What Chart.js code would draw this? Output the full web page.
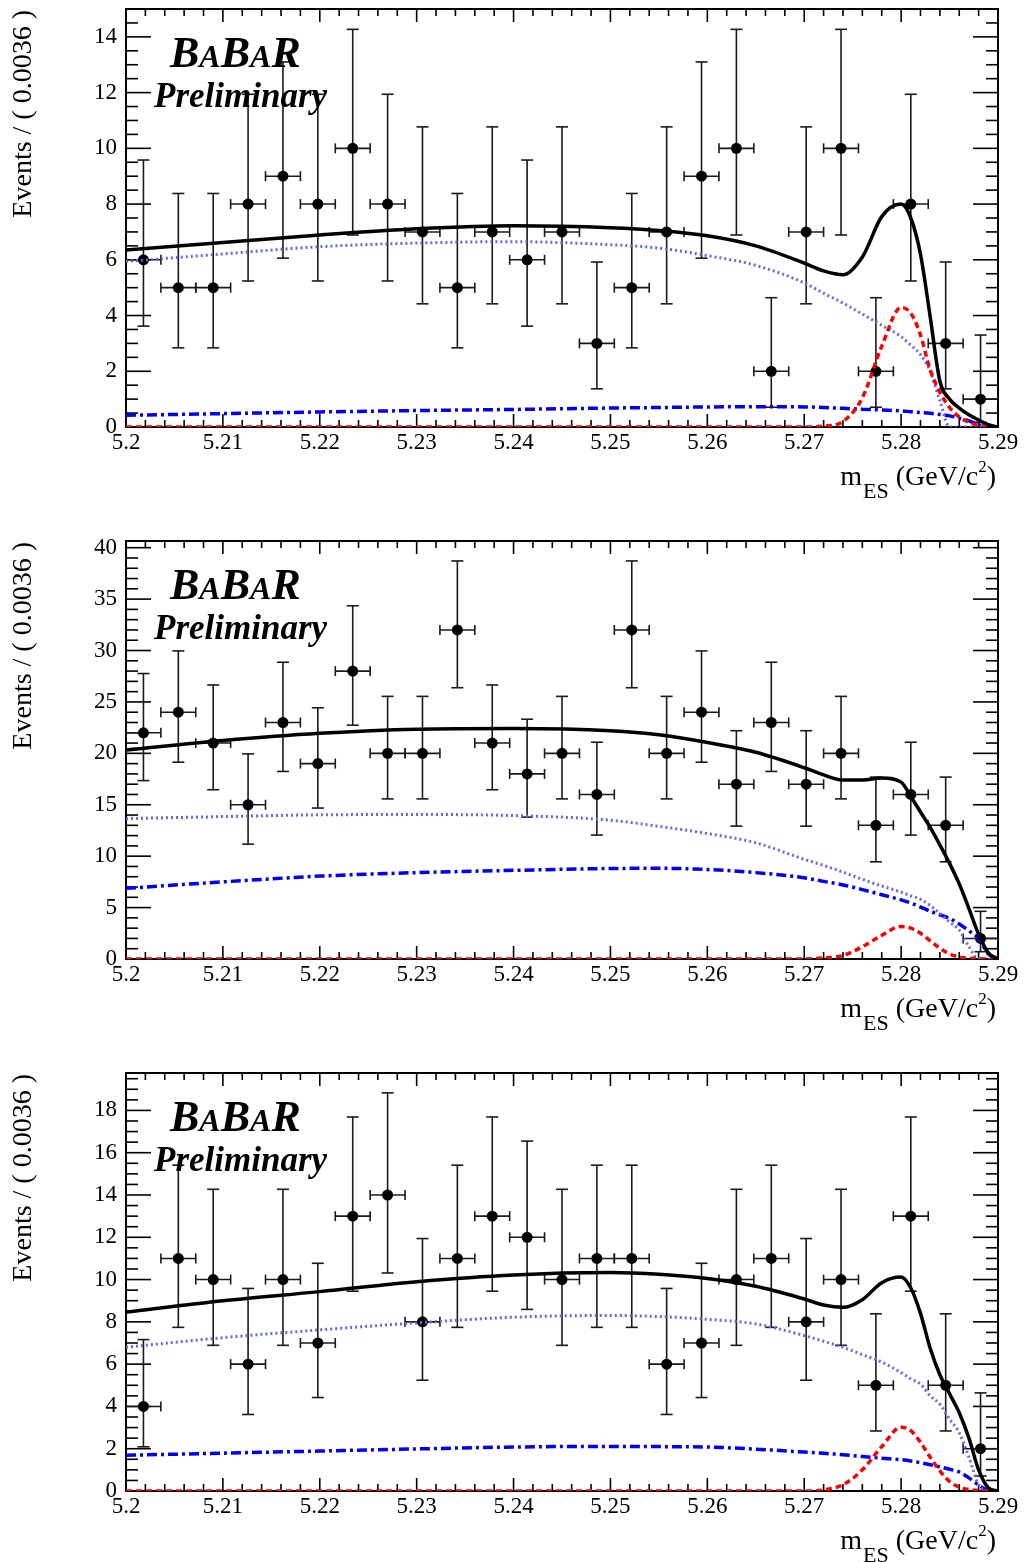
<!DOCTYPE html>
<html>
<head>
<meta charset="utf-8">
<script src="https://cdn.jsdelivr.net/npm/chart.js@4.4.1/dist/chart.umd.min.js"></script>
<style>
  html, body { margin: 0; padding: 0; background: #fff; overflow: hidden; }
  .panel { position: absolute; left: 0; width: 1029px; height: 532px; }
</style>
</head>
<body>
<div class="panel" style="top:0px"><canvas id="c1" width="1029" height="532"></canvas></div>
<div class="panel" style="top:532px"><canvas id="c2" width="1029" height="532"></canvas></div>
<div class="panel" style="top:1064px"><canvas id="c3" width="1029" height="532"></canvas></div>
<script>
// bins of 0.0036 GeV/c^2 between 5.20 and 5.29
const binCenters = [5.2018, 5.2054, 5.2090, 5.2126, 5.2162, 5.2198, 5.2234, 5.2270, 5.2306, 5.2342,
  5.2378, 5.2414, 5.2450, 5.2486, 5.2522, 5.2558, 5.2594, 5.2630, 5.2666, 5.2702,
  5.2738, 5.2774, 5.2810, 5.2846, 5.2882];
const binHalf = 0.0018;
const xTicks = [5.2, 5.21, 5.22, 5.23, 5.24, 5.25, 5.26, 5.27, 5.28, 5.29];
const xTickLabels = ['5.2', '5.21', '5.22', '5.23', '5.24', '5.25', '5.26', '5.27', '5.28', '5.29'];

const curveX = [5.200, 5.210, 5.220, 5.230, 5.240, 5.250, 5.255, 5.260, 5.265, 5.270,
  5.272, 5.274, 5.276, 5.278, 5.280, 5.281, 5.282, 5.283, 5.284, 5.285,
  5.286, 5.287, 5.288, 5.289, 5.290];

// top panel
const counts1 = [6, 5, 5, 8, 9, 8, 10, 8, 7, 5, 7, 6, 7, 3, 5, 7, 9, 10, 2, 7, 10, 2, 8, 3, 1];
const errLo1 = [3.62, 2.84, 2.84, 5.24, 6.06, 5.24, 6.89, 5.24, 4.42, 2.84, 4.42, 3.62, 4.42, 1.37, 2.84, 4.42, 6.06, 6.89, 0.71, 4.42, 6.89, 0.71, 5.24, 1.37, 0.17];
const errHi1 = [9.58, 8.38, 8.38, 11.94, 13.10, 11.94, 14.27, 11.94, 10.77, 8.38, 10.77, 9.58, 10.77, 5.92, 8.38, 10.77, 13.10, 14.27, 4.64, 10.77, 14.27, 4.64, 11.94, 5.92, 3.30];
const total1 = [6.35, 6.62, 6.89, 7.11, 7.22, 7.15, 7.05, 6.86, 6.50, 5.88, 5.60, 5.46, 6.10, 7.55, 8.00, 7.50, 6.20, 3.96, 1.65, 1.00, 0.68, 0.44, 0.25, 0.08, 0];
const signal1 = [0, 0, 0, 0, 0, 0, 0, 0, 0, 0, 0.03, 0.20, 1.05, 2.90, 4.29, 4.08, 3.30, 2.05, 1.25, 0.70, 0.36, 0.17, 0.06, 0.02, 0];
const cont1 = [5.94, 6.21, 6.47, 6.60, 6.65, 6.54, 6.42, 6.15, 5.80, 5.17, 4.80, 4.45, 4.05, 3.65, 3.24, 2.94, 2.60, 2.00, 0.95, 0, 0, 0, 0, 0, 0];
const bb1 = [0.42, 0.48, 0.54, 0.59, 0.63, 0.68, 0.70, 0.72, 0.73, 0.72, 0.70, 0.67, 0.64, 0.61, 0.58, 0.55, 0.52, 0.49, 0.45, 0.40, 0.32, 0.22, 0.08, 0, 0];
const yTicks1 = [0, 2, 4, 6, 8, 10, 12, 14];

// middle panel
const counts2 = [22, 24, 21, 15, 23, 19, 28, 20, 20, 32, 21, 18, 20, 16, 32, 20, 24, 17, 23, 17, 20, 13, 16, 13, 2];
const errLo2 = [17.35, 19.14, 16.46, 11.17, 18.24, 14.68, 22.74, 15.57, 15.57, 26.38, 16.46, 13.80, 15.57, 12.05, 26.38, 15.57, 19.14, 12.92, 18.24, 12.92, 15.57, 9.45, 12.05, 9.45, 0.71];
const errHi2 = [27.76, 29.96, 26.65, 19.95, 28.86, 24.43, 34.35, 25.54, 25.54, 38.71, 26.65, 23.32, 25.54, 21.08, 38.71, 25.54, 29.96, 22.20, 28.86, 22.20, 25.54, 17.69, 21.08, 17.69, 4.64];
const total2 = [20.33, 21.25, 21.95, 22.35, 22.42, 22.20, 21.80, 21.05, 20.10, 18.60, 17.90, 17.40, 17.40, 17.60, 17.20, 15.80, 14.30, 12.80, 11.10, 9.30, 7.30, 4.90, 2.40, 0.60, 0];
const signal2 = [0, 0, 0, 0, 0, 0, 0, 0, 0, 0, 0.10, 0.33, 1.20, 2.30, 3.16, 3.00, 2.50, 1.77, 1.05, 0.50, 0.20, 0.08, 0.03, 0, 0];
const cont2 = [13.65, 13.85, 14.02, 14.05, 13.95, 13.50, 12.90, 12.20, 11.30, 9.70, 9.10, 8.45, 7.75, 7.10, 6.50, 6.15, 5.80, 5.20, 4.45, 3.60, 2.80, 1.20, 0, 0, 0];
const bb2 = [6.87, 7.50, 8.06, 8.40, 8.62, 8.80, 8.82, 8.70, 8.40, 7.90, 7.55, 7.20, 6.75, 6.25, 5.75, 5.45, 5.05, 4.65, 4.30, 3.95, 3.40, 2.74, 2.00, 0.50, 0];
const yTicks2 = [0, 5, 10, 15, 20, 25, 30, 35, 40];

// bottom panel
const counts3 = [4, 11, 10, 6, 10, 7, 13, 14, 8, 11, 13, 12, 10, 11, 11, 6, 7, 10, 11, 8, 10, 5, 13, 5, 2];
const errLo3 = [2.09, 7.74, 6.89, 3.62, 6.89, 4.42, 9.45, 10.31, 5.24, 7.74, 9.45, 8.59, 6.89, 7.74, 7.74, 3.62, 4.42, 6.89, 7.74, 5.24, 6.89, 2.84, 9.45, 2.84, 0.71];
const errHi3 = [7.16, 15.41, 14.27, 9.58, 14.27, 10.77, 17.69, 18.83, 11.94, 15.41, 17.69, 16.55, 14.27, 15.41, 15.41, 9.58, 10.77, 14.27, 15.41, 11.94, 14.27, 8.38, 17.69, 8.38, 4.64];
const total3 = [8.46, 9.00, 9.43, 9.90, 10.22, 10.33, 10.25, 10.05, 9.68, 9.08, 8.80, 8.69, 9.05, 9.85, 10.12, 9.60, 8.40, 6.75, 5.50, 4.60, 3.70, 2.50, 1.00, 0.15, 0];
const signal3 = [0, 0, 0, 0, 0, 0, 0, 0, 0, 0, 0.05, 0.30, 1.00, 2.10, 3.02, 2.85, 2.30, 1.60, 0.95, 0.45, 0.18, 0.07, 0.02, 0, 0];
const cont3 = [6.80, 7.25, 7.62, 7.95, 8.22, 8.30, 8.25, 8.12, 7.90, 7.35, 7.08, 6.80, 6.45, 6.10, 5.60, 5.30, 5.05, 4.50, 4.10, 3.40, 2.75, 1.60, 0.30, 0, 0];
const bb3 = [1.69, 1.79, 1.89, 1.99, 2.08, 2.11, 2.10, 2.08, 1.98, 1.84, 1.78, 1.72, 1.63, 1.55, 1.48, 1.42, 1.34, 1.24, 1.14, 1.03, 0.90, 0.62, 0.28, 0.03, 0];
const yTicks3 = [0, 2, 4, 6, 8, 10, 12, 14, 16, 18];

const serif = "'Liberation Serif', 'Times New Roman', serif";
Chart.defaults.font.family = serif;
Chart.defaults.color = '#000';

const panels = [
  { id: 'c1', counts: counts1, lo: errLo1, hi: errHi1, total: total1, sig: signal1, cont: cont1, bb: bb1, yMax: 15.0, yTicks: yTicks1, yMinor: 0.5 },
  { id: 'c2', counts: counts2, lo: errLo2, hi: errHi2, total: total2, sig: signal2, cont: cont2, bb: bb2, yMax: 40.65, yTicks: yTicks2, yMinor: 1 },
  { id: 'c3', counts: counts3, lo: errLo3, hi: errHi3, total: total3, sig: signal3, cont: cont3, bb: bb3, yMax: 19.77, yTicks: yTicks3, yMinor: 0.5 }
];

function toXY(ys) {
  return curveX.map((x, i) => ({ x: x, y: ys[i] }));
}

function line(ctx, x1, y1, x2, y2) {
  ctx.beginPath();
  ctx.moveTo(x1, y1);
  ctx.lineTo(x2, y2);
  ctx.stroke();
}

function drawParts(ctx, x, base, parts) {
  parts.forEach(pt => {
    ctx.font = pt[1];
    ctx.fillText(pt[0], x, base + pt[2]);
    x += ctx.measureText(pt[0]).width + (pt[3] || 0);
  });
}

function rootPlugin(p) {
  return {
    id: 'rootStyle',
    beforeDatasetsDraw(chart) {
      const ctx = chart.ctx;
      const a = chart.chartArea;
      const xs = chart.scales.x, ys = chart.scales.y;
      ctx.save();
      ctx.strokeStyle = '#000';
      // frame
      ctx.lineWidth = 2;
      ctx.strokeRect(a.left, a.top, a.right - a.left, a.bottom - a.top);
      // x ticks, top and bottom, pointing inwards
      ctx.lineWidth = 1.6;
      for (let k = 0; k <= 45; k++) {
        const v = 5.2 + k * 0.002;
        const px = xs.getPixelForValue(v);
        const len = (k % 5 === 0) ? 13 : 7;
        line(ctx, px, a.bottom, px, a.bottom - len);
        line(ctx, px, a.top, px, a.top + len);
      }
      // y ticks, left and right
      for (let k = 0; k * p.yMinor <= p.yMax + 1e-9; k++) {
        const v = k * p.yMinor;
        const py = ys.getPixelForValue(v);
        const len = p.yTicks.includes(v) ? 25 : 12;
        line(ctx, a.left, py, a.left + len, py);
        line(ctx, a.right, py, a.right - len, py);
      }
      // error bars
      ctx.beginPath();
      ctx.rect(a.left, a.top, a.right - a.left, a.bottom - a.top);
      ctx.clip();
      ctx.strokeStyle = '#1a1a1a';
      ctx.lineWidth = 1.6;
      binCenters.forEach((c, i) => {
        const px = xs.getPixelForValue(c);
        const pl = xs.getPixelForValue(c - binHalf);
        const pr = xs.getPixelForValue(c + binHalf);
        const py = ys.getPixelForValue(p.counts[i]);
        const pLo = ys.getPixelForValue(p.lo[i]);
        const pHi = ys.getPixelForValue(p.hi[i]);
        line(ctx, px, pLo, px, pHi);
        line(ctx, px - 6, pLo, px + 6, pLo);
        line(ctx, px - 6, pHi, px + 6, pHi);
        line(ctx, pl, py, pr, py);
        line(ctx, pl, py - 5, pl, py + 5);
        line(ctx, pr, py - 5, pr, py + 5);
      });
      ctx.restore();
    },
    afterDraw(chart) {
      const ctx = chart.ctx;
      const a = chart.chartArea;
      ctx.save();
      ctx.fillStyle = '#000';
      // y title
      ctx.save();
      ctx.translate(24, a.top + 1);
      ctx.rotate(-Math.PI / 2);
      ctx.font = '28px ' + serif;
      ctx.textAlign = 'right';
      ctx.textBaseline = 'middle';
      ctx.fillText('Events / ( 0.0036 )', 0, 0);
      ctx.restore();
      // x title  m_ES (GeV/c^2)
      ctx.textAlign = 'left';
      ctx.textBaseline = 'alphabetic';
      const xParts = [['m', '28px ' + serif, 0, 1], ['ES', '22px ' + serif, 13], [' (GeV/c', '28px ' + serif, 0], ['2', '17px ' + serif, -13], [')', '28px ' + serif, 0]];
      let w = 0;
      xParts.forEach(pt => { ctx.font = pt[1]; w += ctx.measureText(pt[0]).width + (pt[3] || 0); });
      drawParts(ctx, a.right - 2 - w, a.bottom + 58, xParts);
      // experiment label
      const bigB = 'italic bold 44px ' + serif, smallA = 'italic bold 32px ' + serif;
      drawParts(ctx, a.left + 44, a.top + 58, [['B', bigB, 0], ['A', smallA, 0], ['B', bigB, 0], ['A', smallA, 0], ['R', bigB, 0]]);
      ctx.font = 'italic bold 35px ' + serif;
      ctx.fillText('Preliminary', a.left + 28, a.top + 98);
      ctx.restore();
    }
  };
}

panels.forEach(p => {
  new Chart(document.getElementById(p.id), {
    type: 'scatter',
    data: {
      datasets: [
        { data: toXY(p.total), showLine: true, borderColor: '#000', borderWidth: 3.5, pointRadius: 0, cubicInterpolationMode: 'monotone' },
        { data: toXY(p.sig), showLine: true, borderColor: '#ff0000', borderWidth: 3.5, borderDash: [6, 4], pointRadius: 0, cubicInterpolationMode: 'monotone' },
        { data: toXY(p.cont), showLine: true, borderColor: '#6464ff', borderWidth: 3, borderDash: [2, 3], pointRadius: 0, cubicInterpolationMode: 'monotone' },
        { data: toXY(p.bb), showLine: true, borderColor: '#0000ff', borderWidth: 3.5, borderDash: [10, 4, 3, 4], pointRadius: 0, cubicInterpolationMode: 'monotone' },
        { data: binCenters.map((x, i) => ({ x: x, y: p.counts[i] })), showLine: false, pointRadius: 5.5, pointBackgroundColor: '#000', pointBorderWidth: 0 }
      ]
    },
    options: {
      responsive: false,
      animation: false,
      devicePixelRatio: 1,
      layout: { padding: { left: 0, right: 31, top: 9, bottom: 0 }, autoPadding: false },
      plugins: { legend: { display: false }, tooltip: { enabled: false } },
      scales: {
        x: {
          type: 'linear', min: 5.2, max: 5.29,
          afterBuildTicks: s => { s.ticks = xTicks.map(v => ({ value: v })); },
          afterFit: s => { s.height = 105; s.paddingLeft = 0; s.paddingRight = 0; },
          grid: { display: false, drawTicks: false },
          border: { display: false },
          ticks: { autoSkip: false, maxRotation: 0, padding: 2, color: '#000', font: { size: 23 },
            callback: (v, i) => xTickLabels[i] }
        },
        y: {
          type: 'linear', min: 0, max: p.yMax,
          afterBuildTicks: s => { s.ticks = p.yTicks.map(v => ({ value: v })); },
          afterFit: s => { s.width = 126; s.paddingTop = 0; s.paddingBottom = 0; },
          grid: { display: false, drawTicks: false },
          border: { display: false },
          ticks: { padding: 9, color: '#000', font: { size: 23 },
            callback: v => String(v) }
        }
      }
    },
    plugins: [rootPlugin(p)]
  });
});
</script>
</body>
</html>
